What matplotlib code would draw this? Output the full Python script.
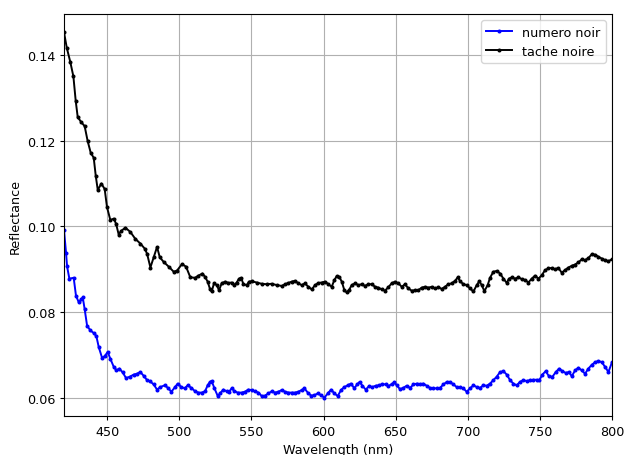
import matplotlib
matplotlib.use("Agg")
import matplotlib.pyplot as plt

# Slightly smaller text/ticks than the defaults
plt.rcParams.update({
    "font.size": 9.2,
    "xtick.major.size": 3.2,
    "ytick.major.size": 3.2,
    "xtick.major.pad": 3.2,
    "ytick.major.pad": 3.2,
    "axes.labelpad": 3.7,
})

wl_tache = [
    420.0, 421.9, 424.4, 426.5, 428.1, 429.5, 432.0, 434.3, 436.4, 438.5,
    440.6, 442.0, 443.4, 445.9, 448.2, 449.8, 452.1, 454.5, 456.1, 457.9,
    459.5, 462.5, 466.0, 469.4, 472.9, 476.0, 477.6, 479.9, 482.2, 484.5,
    486.4, 489.1, 492.6, 496.1, 498.4, 501.8, 504.6, 507.6,
    510.9, 513.2, 516.0, 517.8, 519.6, 521.2, 522.4, 524.0, 525.9, 527.5,
    529.3, 531.7, 534.0, 536.3, 538.1, 539.7, 541.4, 542.8, 544.4, 546.7,
    548.3, 550.1, 553.6, 557.1, 560.5, 564.0, 567.5, 571.0, 573.3, 575.6,
    577.9, 580.2, 582.5, 584.8, 587.1, 589.4, 591.8, 594.1, 596.4, 598.7,
    601.0, 603.3, 605.6, 607.5, 609.1, 610.9, 612.6, 614.4, 616.0, 617.6,
    619.5, 621.8, 624.1, 626.4, 628.7, 631.0, 633.4, 635.7, 638.0, 640.3,
    642.6, 644.9, 647.2, 649.5, 651.9, 654.2, 656.5, 658.8, 661.1, 663.4,
    665.7, 668.0, 670.3, 672.7, 675.0, 677.3, 679.6, 681.9, 684.2, 686.5,
    688.8, 691.2, 693.0, 694.6, 697.0, 699.2, 701.6, 703.9, 706.2, 708.0,
    709.6, 711.5, 713.8, 715.4, 717.7, 720.0, 722.4, 724.7, 727.0, 728.6,
    730.5, 732.8, 735.1, 737.4, 739.7, 742.0, 744.3, 746.6, 749.0, 751.3,
    753.6, 755.9, 758.2, 760.5, 762.8, 765.1, 767.4, 769.8, 772.1, 774.4,
    776.7, 779.0, 781.3, 783.6, 786.0, 788.3, 790.6, 792.9, 795.2, 797.5,
    800.0,
]
r_tache = [
    0.1453, 0.1417, 0.1383, 0.1350, 0.1293, 0.1255, 0.1243, 0.1234, 0.1199, 0.1172,
    0.1160, 0.1118, 0.1085, 0.1100, 0.1087, 0.1045, 0.1015, 0.1018, 0.1006, 0.0981,
    0.0989, 0.0997, 0.0987, 0.0971, 0.0960, 0.0948, 0.0936, 0.0904, 0.0928, 0.0952,
    0.0928, 0.0917, 0.0906, 0.0894, 0.0897, 0.0912, 0.0906, 0.0881,
    0.0880, 0.0885, 0.0890, 0.0882, 0.0871, 0.0854, 0.0848, 0.0867, 0.0863, 0.0851,
    0.0867, 0.0871, 0.0868, 0.0869, 0.0863, 0.0869, 0.0878, 0.0880, 0.0865, 0.0863,
    0.0871, 0.0872, 0.0869, 0.0866, 0.0865, 0.0866, 0.0863, 0.0861, 0.0865, 0.0868,
    0.0871, 0.0873, 0.0867, 0.0863, 0.0867, 0.0859, 0.0853, 0.0863, 0.0868, 0.0869,
    0.0871, 0.0865, 0.0859, 0.0875, 0.0884, 0.0882, 0.0871, 0.0851, 0.0846, 0.0851,
    0.0863, 0.0867, 0.0863, 0.0865, 0.0861, 0.0865, 0.0865, 0.0859, 0.0857, 0.0853,
    0.0850, 0.0858, 0.0867, 0.0871, 0.0867, 0.0859, 0.0865, 0.0855, 0.0850, 0.0851,
    0.0851, 0.0857, 0.0859, 0.0857, 0.0859, 0.0855, 0.0858, 0.0854, 0.0859, 0.0865,
    0.0867, 0.0873, 0.0881, 0.0872, 0.0865, 0.0863, 0.0855, 0.0848, 0.0863, 0.0872,
    0.0863, 0.0849, 0.0863, 0.0880, 0.0894, 0.0896, 0.0890, 0.0878, 0.0868, 0.0878,
    0.0881, 0.0878, 0.0881, 0.0877, 0.0875, 0.0869, 0.0878, 0.0885, 0.0878, 0.0886,
    0.0898, 0.0902, 0.0903, 0.0900, 0.0903, 0.0892, 0.0898, 0.0904, 0.0908, 0.0911,
    0.0916, 0.0923, 0.0921, 0.0926, 0.0935, 0.0934, 0.0929, 0.0925, 0.0921, 0.0919,
    0.0923,
]

wl_numero = [
    420.0, 421.4, 422.1, 423.7, 426.7, 428.3, 430.2, 432.0, 433.0, 434.3,
    436.0, 438.3, 440.6, 442.4, 444.1, 446.4, 448.2, 450.3, 452.1, 454.5,
    456.3, 458.4, 460.7, 463.0, 465.6, 468.3, 470.6, 472.9, 475.3, 477.6,
    479.8, 482.2, 484.5, 486.8, 489.8, 492.1, 494.4, 496.8, 498.8, 501.3,
    503.7, 505.8, 508.3,
    510.9, 513.2, 515.5, 517.8, 519.6, 521.2, 522.4, 524.3, 526.6, 528.2,
    530.5, 532.8, 534.4, 536.3, 538.1, 540.4, 543.2, 545.5, 547.8, 550.1,
    552.5, 554.8, 557.1, 559.4, 561.7, 564.0, 566.3, 568.6, 571.0, 573.3,
    575.6, 577.9, 580.2, 582.5, 584.8, 586.7, 589.0, 591.3, 593.6, 595.9,
    598.2, 600.5, 602.9, 605.2, 607.5, 609.8, 612.1, 614.4, 616.7, 619.0,
    621.3, 623.2, 625.0, 626.9, 629.2, 631.5, 633.8, 636.1, 638.4, 640.8,
    643.1, 644.9, 647.2, 649.1, 650.7, 653.0, 655.3, 657.6, 660.0, 662.3,
    664.6, 666.9, 669.2, 671.5, 673.8, 676.1, 678.4, 680.7, 683.1, 685.4,
    687.7, 690.0, 692.3, 694.6, 696.9, 699.2, 701.6, 703.9, 706.2, 708.5,
    710.8, 713.1, 715.4, 717.7, 720.0, 722.4, 724.7, 727.0, 729.3, 731.6,
    733.9, 736.2, 738.5, 740.9, 743.2, 745.5, 747.8, 749.6, 751.7, 754.0,
    756.3, 758.7, 761.0, 763.3, 765.6, 767.9, 770.2, 772.1, 774.4, 776.7,
    779.0, 781.3, 783.6, 786.0, 788.3, 790.6, 792.9, 795.2, 797.5, 800.0,
]
r_numero = [
    0.0991, 0.0938, 0.0907, 0.0878, 0.0880, 0.0838, 0.0823, 0.0830, 0.0834, 0.0807,
    0.0768, 0.0757, 0.0751, 0.0744, 0.0718, 0.0693, 0.0697, 0.0707, 0.0691, 0.0672,
    0.0664, 0.0668, 0.0659, 0.0646, 0.0649, 0.0654, 0.0656, 0.0660, 0.0651, 0.0641,
    0.0638, 0.0631, 0.0619, 0.0625, 0.0629, 0.0623, 0.0614, 0.0624, 0.0633, 0.0625,
    0.0622, 0.0629, 0.0623,
    0.0615, 0.0612, 0.0612, 0.0615, 0.0629, 0.0637, 0.0639, 0.0622, 0.0604, 0.0610,
    0.0619, 0.0615, 0.0614, 0.0622, 0.0616, 0.0612, 0.0612, 0.0614, 0.0619, 0.0618,
    0.0615, 0.0612, 0.0604, 0.0605, 0.0610, 0.0615, 0.0612, 0.0614, 0.0618, 0.0614,
    0.0612, 0.0612, 0.0612, 0.0614, 0.0618, 0.0622, 0.0612, 0.0605, 0.0606, 0.0610,
    0.0606, 0.0600, 0.0610, 0.0619, 0.0610, 0.0604, 0.0618, 0.0625, 0.0629, 0.0633,
    0.0622, 0.0631, 0.0637, 0.0628, 0.0619, 0.0627, 0.0625, 0.0628, 0.0629, 0.0632,
    0.0631, 0.0627, 0.0632, 0.0636, 0.0629, 0.0620, 0.0623, 0.0628, 0.0623, 0.0631,
    0.0633, 0.0632, 0.0633, 0.0628, 0.0623, 0.0622, 0.0622, 0.0623, 0.0631, 0.0637,
    0.0637, 0.0631, 0.0625, 0.0624, 0.0622, 0.0614, 0.0622, 0.0629, 0.0625, 0.0623,
    0.0629, 0.0628, 0.0633, 0.0641, 0.0649, 0.0660, 0.0662, 0.0654, 0.0641, 0.0633,
    0.0629, 0.0637, 0.0641, 0.0639, 0.0641, 0.0642, 0.0642, 0.0641, 0.0654, 0.0662,
    0.0650, 0.0649, 0.0660, 0.0668, 0.0662, 0.0658, 0.0660, 0.0650, 0.0664, 0.0670,
    0.0664, 0.0656, 0.0668, 0.0677, 0.0683, 0.0686, 0.0683, 0.0672, 0.0660, 0.0683,
]

fig = plt.figure(figsize=(6.24, 4.56), dpi=100)
ax = fig.add_axes([0.1026, 0.0855, 0.8782, 0.8815])

ax.plot(wl_numero, r_numero, ".-", color="blue", markersize=3.8, linewidth=1.4,
        label="numero noir")
ax.plot(wl_tache, r_tache, ".-", color="black", markersize=3.8, linewidth=1.4,
        label="tache noire")

ax.set_xlim(420, 800)
ax.set_xlabel("Wavelength (nm)")
ax.set_ylabel("Reflectance")
ax.grid(True)
ax.legend(loc="upper right")

fig.savefig("out.png", dpi=100)
